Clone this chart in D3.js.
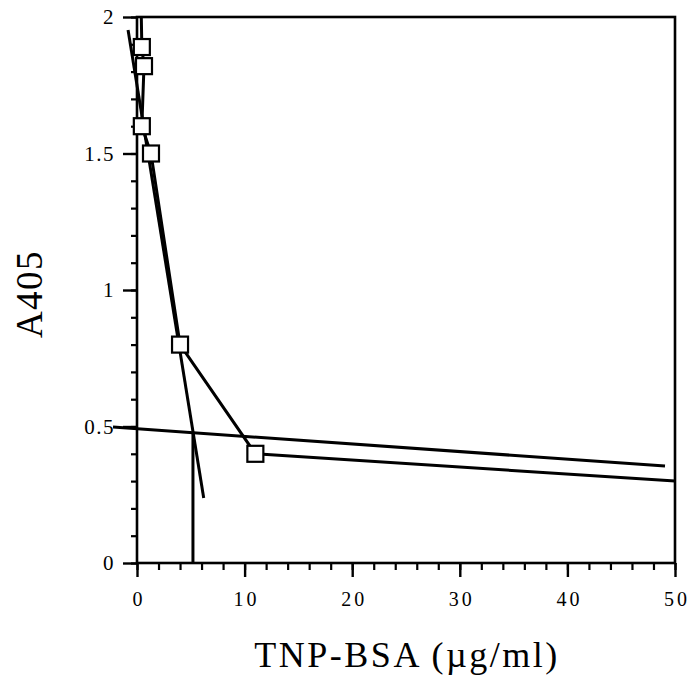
<!DOCTYPE html>
<html>
<head>
<meta charset="utf-8">
<script src="https://cdn.jsdelivr.net/npm/d3@7"></script>
<style>
  html, body { margin: 0; padding: 0; background: #fff; }
  svg { display: block; }
  text { font-family: "Liberation Serif", "Times New Roman", serif; fill: #000; }
</style>
</head>
<body>
<svg id="chart" width="692" height="684"></svg>
<script>
// Measured absorbance vs. TNP-BSA concentration
const concentration = [0.45, 0.65, 0.45, 1.3, 4.0, 11.0];
const absorbance    = [1.89, 1.82, 1.60, 1.50, 0.80, 0.40];

// Connecting trace: lead-in from the top, then the measured points, then the tail
const traceStart = [0.4, 2.0];
const traceEnd   = [50, 0.30];

// Steep fitted line through the early points
const fitLine = [[-0.83, 1.952], [6.2, 0.238]];
// Shallow baseline fit
const baseLine = [[-2.23, 0.498], [49.07, 0.355]];
// Drop line from the intersection to the x axis
const dropLine = [[5.2, 0.48], [5.2, 0]];

const xMajorTicks = [0, 10, 20, 30, 40, 50];
const yMajorTicks = [0, 0.5, 1, 1.5, 2];
const yTickLabels = ["0", "0.5", "1", "1.5", "2"];

const xTitle = "TNP-BSA (\u00b5g/ml)";
const yTitle = "A405";

const svg = d3.select("#chart");
const x = d3.scaleLinear().domain([0, 50]).range([137, 675]);
const y = d3.scaleLinear().domain([0, 2]).range([563, 17]);

const ink = "#000";

// Minor ticks
svg.append("g")
  .attr("transform", `translate(0,${y(0)})`)
  .call(d3.axisBottom(x).tickValues(d3.range(0, 51, 2)).tickSize(7).tickFormat(""))
  .call(g => g.select(".domain").remove())
  .call(g => g.selectAll("line").attr("stroke", ink).attr("stroke-width", 2.2));
svg.append("g")
  .attr("transform", `translate(${x(0)},0)`)
  .call(d3.axisLeft(y).tickValues(d3.range(0, 21).map(d => d / 10)).tickSize(6).tickFormat(""))
  .call(g => g.select(".domain").remove())
  .call(g => g.selectAll("line").attr("stroke", ink).attr("stroke-width", 2.2));

// Major ticks with labels
svg.append("g")
  .attr("transform", `translate(0,${y(0)})`)
  .call(d3.axisBottom(x).tickValues(xMajorTicks).tickSize(14).tickPadding(15).tickFormat(d3.format("d")))
  .call(g => g.select(".domain").remove())
  .call(g => g.selectAll("line").attr("stroke", ink).attr("stroke-width", 2.4))
  .call(g => g.selectAll("text")
    .attr("font-size", 20).attr("letter-spacing", "3px")
    .attr("font-family", "Liberation Serif, serif").attr("fill", ink)
    .attr("dx", "1.5px"));
svg.append("g")
  .attr("transform", `translate(${x(0)},0)`)
  .call(d3.axisLeft(y).tickValues(yMajorTicks).tickSize(14).tickPadding(8)
    .tickFormat((d, i) => yTickLabels[i]))
  .call(g => g.select(".domain").remove())
  .call(g => g.selectAll("line").attr("stroke", ink).attr("stroke-width", 2.4))
  .call(g => g.selectAll("text")
    .attr("font-size", 21).attr("letter-spacing", "1.5px")
    .attr("font-family", "Liberation Serif, serif").attr("fill", ink));

// Frame: axes plus top and right borders
svg.append("rect")
  .attr("x", x(0)).attr("y", y(2))
  .attr("width", x(50) - x(0)).attr("height", y(0) - y(2))
  .attr("fill", "none").attr("stroke", ink).attr("stroke-width", 2.6);

const line = d3.line().x(d => x(d[0])).y(d => y(d[1]));

// Straight reference lines
[fitLine, baseLine, dropLine].forEach(pts => {
  svg.append("path").attr("d", line(pts))
    .attr("fill", "none").attr("stroke", ink).attr("stroke-width", 3);
});

// Trace through the measured points
const points = concentration.map((c, i) => [c, absorbance[i]]);
svg.append("path")
  .attr("d", line([traceStart, ...points, traceEnd]))
  .attr("fill", "none").attr("stroke", ink).attr("stroke-width", 3)
  .attr("stroke-linejoin", "round");

// Square markers
const s = 16;
svg.append("g").selectAll("rect").data(points).join("rect")
  .attr("x", d => x(d[0]) - s / 2).attr("y", d => y(d[1]) - s / 2)
  .attr("width", s).attr("height", s)
  .attr("fill", "#fff").attr("stroke", ink).attr("stroke-width", 2.2);

// Axis titles
svg.append("text")
  .attr("x", 407).attr("y", 667)
  .attr("text-anchor", "middle")
  .attr("font-size", 36).attr("letter-spacing", "2.5px")
  .text(xTitle);
svg.append("text")
  .attr("transform", "translate(42,294) rotate(-90)")
  .attr("text-anchor", "middle")
  .attr("font-size", 37).attr("letter-spacing", "1.5px")
  .text(yTitle);
</script>
</body>
</html>
